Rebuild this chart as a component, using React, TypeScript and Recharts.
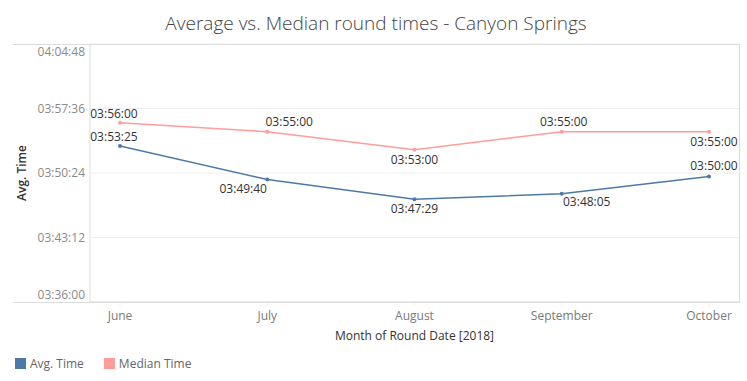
import React from 'react';
import { LineChart, Line, XAxis, YAxis, CartesianGrid, LabelList, Label } from 'recharts';

const months = ['June', 'July', 'August', 'September', 'October'];
const avgTimes = ['03:53:25', '03:49:40', '03:47:29', '03:48:05', '03:50:00'];
const medianTimes = ['03:56:00', '03:55:00', '03:53:00', '03:55:00', '03:55:00'];
const yTickLabels = ['03:36:00', '03:43:12', '03:50:24', '03:57:36', '04:04:48'];

// label placement (styling only)
const avgLabelDx = [-6, -24, 0, 25, 5];
const avgLabelDy = [-9, 9, 9.5, 8, -10.5];
const medLabelDx = [-6, 22, 0, 2, 5];
const medLabelDy = [-9.5, -9.5, 10, -9.5, 10];

const toSec = (s: string) => {
  const [h, m, sec] = s.split(':').map(Number);
  return h * 3600 + m * 60 + sec;
};
const fmt = (v: number) => {
  const h = Math.floor(v / 3600);
  const m = Math.floor((v % 3600) / 60);
  const s = Math.round(v % 60);
  const p = (n: number) => String(n).padStart(2, '0');
  return `${p(h)}:${p(m)}:${p(s)}`;
};

const yTicks = yTickLabels.map(toSec);
const yMin = yTicks[0];
const yMax = yTicks[yTicks.length - 1];

const data = months.map((m, i) => ({
  month: m,
  avg: toSec(avgTimes[i]),
  median: toSec(medianTimes[i]),
}));

const FONT = '"Open Sans", "Noto Sans", sans-serif';
const BLUE = '#4e79a7';
const PINK = '#ff9d9a';

const YTick = (props: any) => {
  const { x, y, payload } = props;
  let dy = 0;
  if (payload.value === yMax) dy = 8;
  if (payload.value === yMin) dy = -7;
  return (
    <text x={x} y={y + dy} dy="0.35em" textAnchor="end" fontSize={12} fill="#8a8a8a" fontFamily={FONT}>
      {fmt(payload.value)}
    </text>
  );
};

const XTick = (props: any) => {
  const { x, y, payload } = props;
  return (
    <text x={x} y={y} dy="0.71em" textAnchor="middle" fontSize={12} fill="#7a7a7a" fontFamily={FONT}>
      {payload.value}
    </text>
  );
};

const makeLabel = (dxArr: number[], dyArr: number[]) => (props: any) => {
  const { x, y, index, value } = props;
  return (
    <text
      x={x + dxArr[index]}
      y={y + dyArr[index]}
      dy="0.35em"
      textAnchor="middle"
      fontSize={12}
      fill="#333"
      fontFamily={FONT}
    >
      {fmt(value)}
    </text>
  );
};

const XAxisTitle = (props: any) => {
  const vb = props.viewBox;
  return (
    <text
      x={vb.x + vb.width / 2}
      y={vb.y + 34}
      dy="0.35em"
      textAnchor="middle"
      fontSize={12}
      fill="#333"
      fontFamily={FONT}
      fontWeight={500}
    >
      Month of Round Date [2018]
    </text>
  );
};

export default function App() {
  const line = (style: React.CSSProperties) => (
    <div style={{ position: 'absolute', background: '#dcdcdc', ...style }} />
  );
  return (
    <div
      style={{
        position: 'absolute',
        left: 0,
        top: 0,
        width: 747,
        height: 381,
        background: '#fff',
        fontFamily: FONT,
      }}
    >
      <div
        style={{
          position: 'absolute',
          left: 0,
          top: 9,
          width: 752,
          textAlign: 'center',
          fontSize: 19,
          fontWeight: 300,
          color: '#444',
          lineHeight: '28px',
        }}
      >
        Average vs. Median round times - Canyon Springs
      </div>
      <LineChart width={747} height={381} data={data} margin={{ top: 44, right: 8, bottom: 0, left: 0 }}>
        <CartesianGrid vertical={false} stroke="#efefef" />
        <XAxis
          dataKey="month"
          height={79}
          padding={{ left: 30, right: 30 }}
          axisLine={{ stroke: '#dcdcdc' }}
          tickLine={{ stroke: '#eeeeee' }}
          tickSize={4}
          tickMargin={5}
          tick={<XTick />}
        >
          <Label content={<XAxisTitle />} />
        </XAxis>
        <YAxis
          type="number"
          domain={[yMin, yMax]}
          ticks={yTicks}
          width={90}
          axisLine={{ stroke: '#dcdcdc' }}
          tickLine={false}
          tickSize={0}
          tickMargin={5}
          tick={<YTick />}
          interval={0}
        >
          <Label
            value="Avg. Time"
            angle={-90}
            position="insideLeft"
            offset={22}
            style={{ fontSize: 12, fontWeight: 600, fill: '#333', fontFamily: FONT, textAnchor: 'middle' }}
          />
        </YAxis>
        <Line
          dataKey="median"
          stroke={PINK}
          strokeWidth={1.5}
          dot={{ r: 2, fill: PINK, stroke: PINK, strokeWidth: 0 }}
          isAnimationActive={false}
        >
          <LabelList dataKey="median" content={makeLabel(medLabelDx, medLabelDy)} />
        </Line>
        <Line
          dataKey="avg"
          stroke={BLUE}
          strokeWidth={1.5}
          dot={{ r: 2, fill: BLUE, stroke: BLUE, strokeWidth: 0 }}
          isAnimationActive={false}
        >
          <LabelList dataKey="avg" content={makeLabel(avgLabelDx, avgLabelDy)} />
        </Line>
      </LineChart>
      {line({ left: 13, top: 43.5, width: 726, height: 1 })}
      {line({ left: 13, top: 301.5, width: 726, height: 1 })}
      {line({ left: 738.5, top: 43.5, width: 1, height: 259 })}
      <div style={{ position: 'absolute', left: 15, top: 355, display: 'flex', alignItems: 'center', fontSize: 12, color: '#666' }}>
        <span style={{ width: 11, height: 11, background: BLUE, display: 'inline-block', marginRight: 4 }} />
        <span style={{ marginRight: 20 }}>Avg. Time</span>
        <span style={{ width: 11, height: 11, background: PINK, display: 'inline-block', marginRight: 4 }} />
        <span>Median Time</span>
      </div>
    </div>
  );
}
